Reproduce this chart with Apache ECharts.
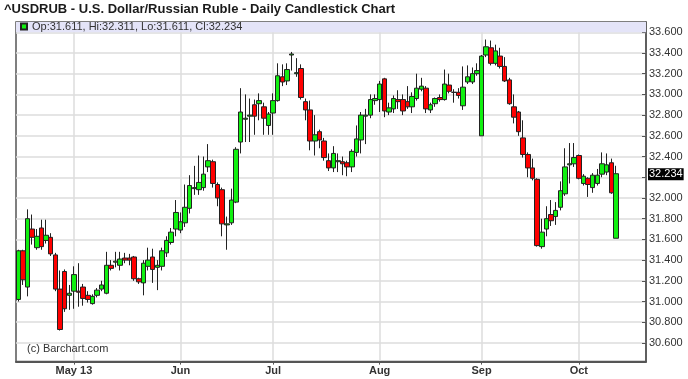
<!DOCTYPE html>
<html><head><meta charset="utf-8">
<script src="https://cdn.jsdelivr.net/npm/echarts@6/dist/echarts.min.js"></script>
<style>html,body{margin:0;padding:0;background:#fff}#c{width:688px;height:379px}</style>
</head><body><div id="c"></div>
<script>
// Category slots: trading weekdays starting 2013-04-15 (plus empty slots at the right)
const startDate = '2013-04-15';
const slotCount = 136;
const monthLabels = {'2013-05-01':'May 13','2013-06-03':'Jun','2013-07-01':'Jul','2013-08-01':'Aug','2013-09-02':'Sep','2013-10-01':'Oct'};
const yTicks = [30.6,30.8,31.0,31.2,31.4,31.6,31.8,32.0,32.2,32.4,32.6,32.8,33.0,33.2,33.4,33.6];

const openV = [
31.02,31.49,31.14,31.70,31.52,31.71,31.59,31.62,31.45,31.12,
31.29,31.06,31.10,31.10,31.14,31.06,30.98,31.06,31.12,31.08,
31.35,31.38,31.35,31.42,31.42,31.43,31.22,31.18,31.34,31.43,
31.33,31.34,31.47,31.57,31.70,31.69,31.76,31.90,32.09,32.08,
32.10,32.30,32.35,32.13,32.08,31.74,31.76,31.96,32.54,32.76,
32.79,32.90,32.91,32.88,32.70,32.82,32.94,33.17,33.13,33.38,
33.20,33.25,32.93,32.85,32.55,32.64,32.55,32.36,32.29,32.35,
32.35,32.34,32.30,32.44,32.56,32.79,32.80,32.94,32.95,33.15,
32.83,32.86,32.95,32.95,32.93,32.88,32.96,33.05,33.06,32.85,
32.91,32.97,32.95,33.09,33.02,33.02,32.89,33.12,33.12,33.20,
32.60,33.38,33.45,33.30,33.37,33.27,33.14,32.88,32.83,32.58,
32.42,32.29,32.18,31.53,31.70,31.84,31.82,31.91,32.04,32.32,
32.33,32.41,32.14,32.19,32.10,32.14,32.23,32.25,32.34,31.611];
const highV = [
31.50,31.50,31.89,31.84,31.70,31.79,31.79,31.66,31.47,31.30,
31.31,31.16,31.34,31.37,31.17,31.10,31.07,31.13,31.20,31.48,
31.40,31.48,31.48,31.47,31.46,31.44,31.23,31.40,31.52,31.51,
31.40,31.52,31.63,31.71,31.98,31.86,32.13,32.22,32.31,32.41,
32.40,32.52,32.37,32.15,32.10,31.82,32.09,32.49,33.06,33.00,
32.96,32.95,33.01,32.92,32.83,33.01,33.30,33.29,33.30,33.41,
33.35,33.29,32.96,32.94,32.80,32.66,32.58,32.43,32.50,32.43,
32.40,32.36,32.47,32.70,32.83,32.86,33.00,33.00,33.13,33.16,
32.92,32.99,33.04,33.00,33.08,33.02,33.20,33.16,33.08,32.92,
32.97,33.00,33.24,33.20,33.05,33.06,33.27,33.28,33.26,33.30,
33.38,33.53,33.52,33.48,33.45,33.36,33.16,33.00,32.84,32.75,
32.44,32.38,32.19,31.80,31.92,31.98,31.96,32.16,32.48,32.53,
32.53,32.42,32.23,32.20,32.24,32.28,32.44,32.43,32.38,32.311];
const lowV = [
31.00,31.16,31.05,31.55,31.50,31.50,31.56,31.44,31.10,30.72,
30.90,30.92,30.93,30.95,30.96,30.99,30.97,31.04,31.10,31.07,
31.30,31.33,31.30,31.37,31.35,31.20,31.17,31.06,31.30,31.18,
31.11,31.30,31.43,31.55,31.63,31.66,31.72,31.85,32.03,32.03,
32.07,32.25,32.10,31.92,31.63,31.50,31.74,31.95,32.43,32.54,
32.54,32.61,32.75,32.61,32.61,32.61,32.93,33.08,33.09,33.23,
33.17,32.95,32.75,32.46,32.41,32.48,32.36,32.26,32.25,32.25,
32.22,32.21,32.25,32.40,32.43,32.52,32.77,32.90,32.83,32.78,
32.80,32.82,32.86,32.80,32.86,32.82,32.94,33.03,32.82,32.82,
32.88,32.93,32.94,33.01,32.92,32.96,32.85,33.10,33.10,33.18,
32.60,33.36,33.28,33.28,33.25,33.12,32.90,32.72,32.60,32.39,
32.20,32.17,31.53,31.51,31.63,31.73,31.74,31.88,32.02,32.14,
32.30,32.18,32.12,32.01,32.05,32.12,32.20,32.22,32.04,31.611];
const closeV = [
31.49,31.21,31.80,31.62,31.63,31.53,31.64,31.46,31.12,30.73,
30.93,31.08,31.26,31.09,31.03,31.02,31.05,31.11,31.16,31.35,
31.32,31.39,31.41,31.40,31.40,31.22,31.19,31.37,31.40,31.31,
31.35,31.49,31.59,31.67,31.86,31.77,31.91,32.12,32.10,32.15,
32.23,32.36,32.14,32.00,31.75,31.75,31.98,32.47,32.83,32.77,
32.80,32.79,32.94,32.77,32.81,32.94,33.18,33.12,33.24,33.39,
33.21,32.97,32.85,32.55,32.61,32.56,32.39,32.29,32.43,32.36,
32.33,32.30,32.45,32.57,32.80,32.80,32.95,32.96,33.10,32.84,
32.87,32.96,32.93,32.84,32.88,32.98,33.06,33.08,32.86,32.90,
32.96,32.95,33.10,33.03,33.02,32.99,33.07,33.17,33.20,33.23,
33.37,33.46,33.30,33.42,33.27,33.13,32.91,32.78,32.64,32.42,
32.29,32.19,31.54,31.67,31.80,31.78,31.88,32.07,32.30,32.33,
32.39,32.19,32.21,32.13,32.22,32.22,32.33,32.32,32.05,32.234];

// build weekday categories
const categories = [];
{
  const d = new Date(startDate + 'T00:00:00Z');
  while (categories.length < slotCount) {
    const wd = d.getUTCDay();
    if (wd !== 0 && wd !== 6) categories.push(d.toISOString().slice(0, 10));
    d.setUTCDate(d.getUTCDate() + 1);
  }
}
const candleData = openV.map((o, i) => [o, closeV[i], lowV[i], highV[i]]);
const last = candleData.length - 1;
const lastClose = closeV[last];
const isMonth = (idx) => monthLabels[categories[idx]] !== undefined;
const FONT = '"Liberation Sans", Arial, sans-serif';

const chart = echarts.init(document.getElementById('c'), null, {renderer: 'canvas'});
chart.setOption({
  animation: false,
  backgroundColor: '#ffffff',
  title: [
    {text: '^USDRUB - U.S. Dollar/Russian Ruble - Daily Candlestick Chart', left: 4, top: 3, padding: 0,
     textStyle: {fontFamily: FONT, fontSize: 13, fontWeight: 'bold', color: '#1a1a1a'}},
    {text: '(c) Barchart.com', left: 27, top: 343, padding: 0,
     textStyle: {fontFamily: FONT, fontSize: 11, fontWeight: 'normal', color: '#333'}}
  ],
  legend: {
    data: ['USDRUB'], left: 20, top: 21, padding: 0, itemWidth: 6, itemHeight: 6, icon: 'rect',
    selectedMode: false,
    textStyle: {fontFamily: FONT, fontSize: 11, color: '#333'},
    formatter: () => 'Op:' + openV[last].toFixed(3) + ', Hi:' + highV[last].toFixed(3) +
      ', Lo:' + lowV[last].toFixed(3) + ', Cl:' + closeV[last].toFixed(3)
  },
  grid: {left: 16, right: 42, top: 21.9, bottom: 17.4, show: true, borderColor: '#555', borderWidth: 1.5, backgroundColor: '#fff'},
  xAxis: {
    type: 'category', data: categories, boundaryGap: true,
    axisLine: {show: true, lineStyle: {color: '#555', width: 2}},
    axisTick: {show: true, alignWithLabel: true, interval: (i) => isMonth(i), length: 3, lineStyle: {color: '#555'}},
    axisLabel: {interval: (i) => isMonth(i), formatter: (v) => monthLabels[v] || '', margin: 4,
      fontFamily: FONT, fontSize: 11, fontWeight: 'bold', color: '#333'},
    splitLine: {show: true, alignWithLabel: true, interval: (i) => isMonth(i), lineStyle: {color: '#dcdcdc', width: 1.5}}
  },
  yAxis: {
    type: 'value', position: 'right', min: 30.42, max: 33.70, scale: true,
    axisLine: {show: true, lineStyle: {color: '#555', width: 1.5}},
    axisTick: {show: true, inside: true, length: 4, customValues: yTicks, lineStyle: {color: '#555'}},
    axisLabel: {customValues: yTicks.filter(t => Math.abs(t - lastClose) > 0.06), formatter: (v) => v.toFixed(3), margin: 3,
      fontFamily: FONT, fontSize: 11, color: '#333'},
    splitLine: {show: true, lineStyle: {color: '#dcdcdc', width: 1.5}}
  },
  series: [{
    name: 'USDRUB', type: 'candlestick', data: candleData, barWidth: 5,
    itemStyle: {color: '#11f011', color0: '#ff0000', borderColor: '#222', borderColor0: '#222', borderWidth: 1},
    markArea: {silent: true, itemStyle: {color: '#e4e4f8'}, data: [[{yAxis: 33.6}, {yAxis: 33.70}]]},
    markLine: {
      silent: true, symbol: ['none', 'none'], lineStyle: {color: 'rgba(0,0,0,0)', width: 0, opacity: 1},
      data: [{yAxis: lastClose}],
      label: {show: true, position: 'end', distance: 2, formatter: () => lastClose.toFixed(3), backgroundColor: '#000',
        color: '#fff', padding: [1, 1, 0, 1], fontFamily: FONT, fontSize: 11, opacity: 1}
    }
  }]
});
</script></body></html>
